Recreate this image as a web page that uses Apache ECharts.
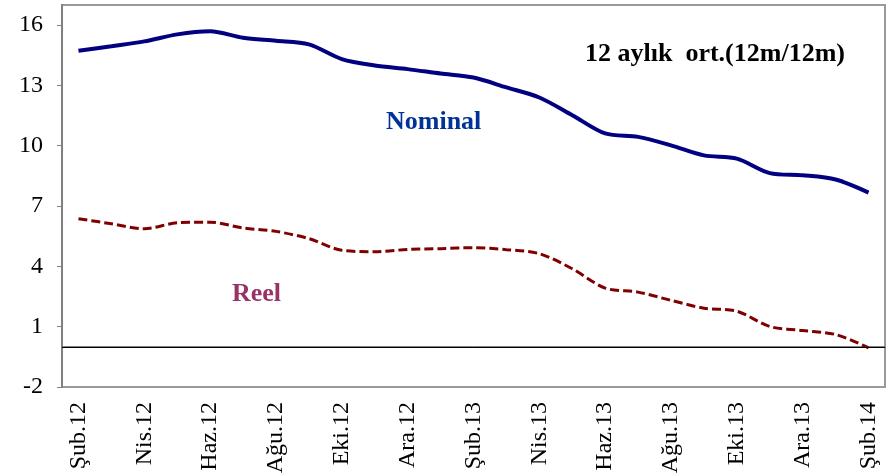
<!DOCTYPE html>
<html>
<head>
<meta charset="utf-8">
<script src="https://cdn.jsdelivr.net/npm/echarts@6/dist/echarts.min.js"></script>
<style>
  html, body { margin: 0; padding: 0; background: #fff; }
  #chart { width: 887px; height: 473px; }
</style>
</head>
<body>
<div id="chart"></div>
<script>
// aylar, Şub.12 - Şub.14
const months = [
  'Şub.12', 'Mar.12', 'Nis.12', 'May.12', 'Haz.12', 'Tem.12', 'Ağu.12', 'Eyl.12',
  'Eki.12', 'Kas.12', 'Ara.12', 'Oca.13', 'Şub.13', 'Mar.13', 'Nis.13', 'May.13',
  'Haz.13', 'Tem.13', 'Ağu.13', 'Eyl.13', 'Eki.13', 'Kas.13', 'Ara.13', 'Oca.14', 'Şub.14'
]
const nominal = [
  14.72, 14.95, 15.19, 15.54, 15.69, 15.37, 15.22, 15.04, 14.31, 13.99, 13.81, 13.59,
  13.39, 12.90, 12.40, 11.52, 10.61, 10.44, 10.02, 9.52, 9.36, 8.64, 8.53, 8.32, 7.67
]
const reel = [
  6.37, 6.12, 5.87, 6.17, 6.20, 5.91, 5.74, 5.38, 4.80, 4.73, 4.84, 4.88,
  4.93, 4.83, 4.63, 3.88, 2.92, 2.72, 2.31, 1.92, 1.77, 1.01, 0.81, 0.61, -0.05
]
const yTicks = [-2, 1, 4, 7, 10, 13, 16]

const serif = '"Liberation Serif", "Times New Roman", serif'

const chart = echarts.init(document.getElementById('chart'), null, { renderer: 'canvas' })

const option = {
  animation: false,
  backgroundColor: '#fff',
  grid: {
    left: 62,
    right: 2,
    top: 5,
    bottom: 86,
    outerBoundsMode: 'none',
    show: true,
    borderColor: '#999',
    borderWidth: 2
  },
  xAxis: {
    type: 'category',
    data: months,
    boundaryGap: true,
    axisLine: { lineStyle: { color: '#808080', width: 2 } },
    axisTick: { show: false },
    axisLabel: {
      interval: 1,
      rotate: 90,
      margin: 15,
      color: '#000',
      fontFamily: serif,
      fontSize: 24
    },
    splitLine: { show: false }
  },
  yAxis: {
    type: 'value',
    min: -2,
    max: 17,
    axisLine: { show: true, lineStyle: { color: '#808080', width: 2 } },
    axisTick: {
      show: true,
      length: 5,
      customValues: yTicks,
      lineStyle: { color: '#808080', width: 1 }
    },
    axisLabel: {
      customValues: yTicks,
      margin: 19,
      color: '#000',
      fontFamily: serif,
      fontSize: 24
    },
    splitLine: { show: false }
  },
  series: [
    {
      name: 'Nominal',
      type: 'line',
      data: nominal,
      smooth: 0.3,
      symbol: 'none',
      lineStyle: { color: '#000080', width: 4 },
      markLine: {
        silent: true,
        symbol: 'none',
        label: { show: false },
        lineStyle: { color: '#000', width: 1, type: 'solid' },
        data: [{ yAxis: 0 }]
      }
    },
    {
      name: 'Reel',
      type: 'line',
      data: reel,
      smooth: 0.3,
      symbol: 'none',
      lineStyle: { color: '#800000', width: 3, type: [9, 4] }
    }
  ],
  graphic: [
    {
      type: 'text',
      left: 585,
      top: 41,
      style: { text: '12 aylık  ort.(12m/12m)', font: 'bold 26px ' + serif, fill: '#000' }
    },
    {
      type: 'text',
      left: 386,
      top: 109,
      style: { text: 'Nominal', font: 'bold 26px ' + serif, fill: '#003399' }
    },
    {
      type: 'text',
      left: 232,
      top: 281,
      style: { text: 'Reel', font: 'bold 26px ' + serif, fill: '#993366' }
    }
  ]
}

chart.setOption(option)
</script>
</body>
</html>
